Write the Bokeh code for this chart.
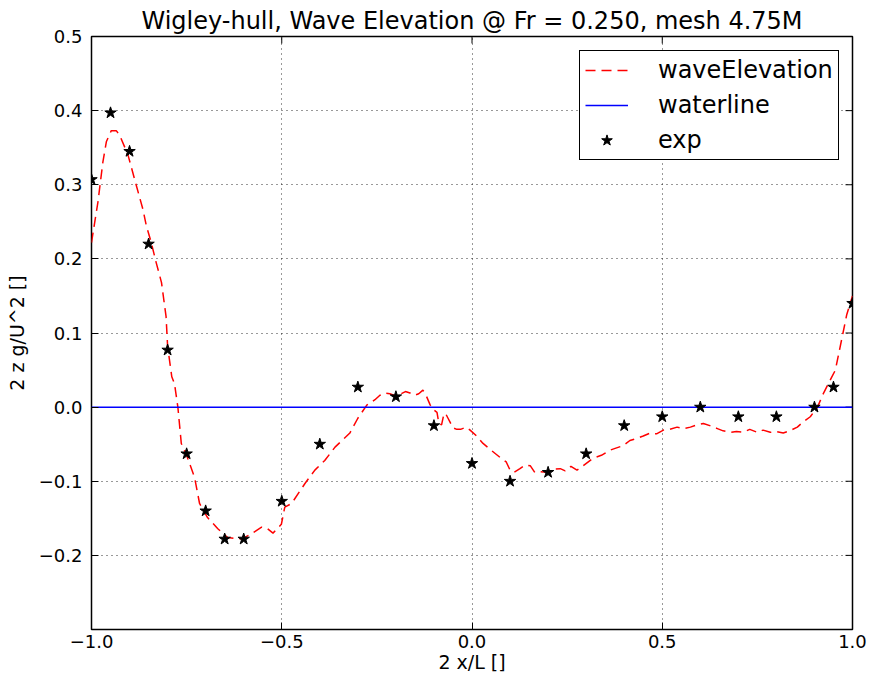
from bokeh.plotting import figure
from bokeh.models import FixedTicker, Range1d, Legend, LegendItem
from bokeh.embed import file_html
from bokeh.resources import INLINE

# ---- data ----
wave_x = [-1.0, -0.983, -0.97, -0.961, -0.948, -0.935, -0.926, -0.904, -0.887, -0.865,
          -0.856, -0.843, -0.83, -0.816, -0.804, -0.8, -0.789, -0.782, -0.773, -0.764,
          -0.75, -0.729, -0.716, -0.695, -0.668, -0.642, -0.606, -0.58, -0.553, -0.54,
          -0.523, -0.501, -0.492, -0.474, -0.439, -0.413, -0.387, -0.36, -0.321, -0.3,
          -0.276, -0.255, -0.242, -0.23, -0.216, -0.2, -0.19, -0.175, -0.163, -0.15,
          -0.14, -0.129, -0.12, -0.11, -0.1, -0.092, -0.087, -0.08, -0.075, -0.07,
          -0.063, -0.058, -0.05, -0.04, -0.03, -0.015, -0.005, 0.01, 0.029, 0.05,
          0.074, 0.09, 0.1, 0.11, 0.126, 0.14, 0.153, 0.165, 0.18, 0.197,
          0.21, 0.232, 0.245, 0.26, 0.276, 0.29, 0.318, 0.34, 0.363, 0.38,
          0.397, 0.415, 0.434, 0.45, 0.468, 0.485, 0.503, 0.52, 0.539, 0.555,
          0.574, 0.59, 0.608, 0.625, 0.645, 0.66, 0.679, 0.695, 0.713, 0.73,
          0.75, 0.765, 0.784, 0.8, 0.818, 0.835, 0.855, 0.87, 0.889, 0.908,
          0.924, 0.942, 0.955, 0.965, 0.975, 0.985, 1.0]
wave_y = [0.222, 0.277, 0.331, 0.358, 0.373, 0.373, 0.367, 0.34, 0.308, 0.267,
          0.245, 0.222, 0.195, 0.168, 0.122, 0.082, 0.041, 0.032, 0.0, -0.049,
          -0.065, -0.095, -0.13, -0.149, -0.164, -0.176, -0.178, -0.171, -0.162, -0.163,
          -0.17, -0.158, -0.135, -0.13, -0.103, -0.085, -0.072, -0.054, -0.035, -0.015,
          0.003, 0.01, 0.016, 0.019, 0.018, 0.015, 0.017, 0.021, 0.019, 0.016,
          0.018, 0.023, 0.015, 0.003, -0.004, -0.007, -0.022, -0.024, -0.012, -0.008,
          -0.015, -0.02, -0.028, -0.03, -0.03, -0.027, -0.031, -0.038, -0.049, -0.058,
          -0.068, -0.074, -0.085, -0.088, -0.083, -0.078, -0.079, -0.088, -0.087, -0.088,
          -0.084, -0.083, -0.086, -0.08, -0.085, -0.08, -0.069, -0.065, -0.058, -0.055,
          -0.052, -0.045, -0.042, -0.039, -0.035, -0.036, -0.031, -0.03, -0.027, -0.029,
          -0.027, -0.024, -0.022, -0.025, -0.029, -0.032, -0.034, -0.033, -0.034, -0.03,
          -0.034, -0.031, -0.034, -0.033, -0.035, -0.032, -0.027, -0.02, -0.013, 0.0,
          0.019, 0.037, 0.05, 0.075, 0.1, 0.125, 0.15]

waterline_x = [-1.0, 1.0]
waterline_y = [0.0, 0.0]

exp_x = [-1.0, -0.95, -0.9, -0.85, -0.8, -0.75, -0.7, -0.65, -0.6, -0.5,
         -0.4, -0.3, -0.2, -0.1, 0.0, 0.1, 0.2, 0.3, 0.4, 0.5,
         0.6, 0.7, 0.8, 0.9, 0.95, 1.0]
exp_y = [0.307, 0.397, 0.345, 0.22, 0.077, -0.063, -0.14, -0.178, -0.178, -0.127,
         -0.05, 0.027, 0.014, -0.025, -0.076, -0.1, -0.088, -0.063, -0.025, -0.013,
         0.0, -0.013, -0.013, 0.0, 0.027, 0.14]

x_ticks = [-1.0, -0.5, 0.0, 0.5, 1.0]
x_tick_labels = ["\u22121.0", "\u22120.5", "0.0", "0.5", "1.0"]
y_ticks = [-0.2, -0.1, 0.0, 0.1, 0.2, 0.3, 0.4, 0.5]
y_tick_labels = ["\u22120.2", "\u22120.1", "0.0", "0.1", "0.2", "0.3", "0.4", "0.5"]

FONT = "DejaVu Sans"
X0, X1, Y0, Y1 = -1.0, 1.0, -0.3, 0.5

W, H = 869, 680
BL, BR, BT, BB = 91, 17, 36, 51

p = figure(width=W, height=H, output_backend="svg", toolbar_location=None,
           x_range=Range1d(X0, X1), y_range=Range1d(Y0, Y1),
           title="Wigley-hull, Wave Elevation @ Fr = 0.250, mesh 4.75M",
           x_axis_label="2 x/L []", y_axis_label="2 z g/U^2 []",
           min_border_left=BL, min_border_right=BR, min_border_top=BT, min_border_bottom=BB)

p.title.text_font = FONT
p.title.text_font_size = "24px"
p.title.text_font_style = "normal"
p.title.text_color = "black"
p.title.align = "center"
p.title.offset = 0
p.title.standoff = 4

p.outline_line_color = "black"
p.outline_line_width = 1.5
p.background_fill_color = "white"
p.border_fill_color = "white"

for ax in p.xaxis:
    ax.ticker = FixedTicker(ticks=x_ticks)
    ax.major_label_overrides = {t: l for t, l in zip(x_ticks, x_tick_labels)}
    ax.major_label_standoff = 5
    ax.axis_label_standoff = 0
for ax in p.yaxis:
    ax.ticker = FixedTicker(ticks=y_ticks)
    ax.major_label_overrides = {t: l for t, l in zip(y_ticks, y_tick_labels)}
    ax.major_label_standoff = 9
    ax.axis_label_standoff = 8

for ax in list(p.xaxis) + list(p.yaxis):
    ax.axis_line_color = None
    ax.major_tick_in = 7
    ax.major_tick_out = 0
    ax.major_tick_line_color = "black"
    ax.major_tick_line_width = 1
    ax.minor_tick_line_color = None
    ax.major_label_text_font = FONT
    ax.major_label_text_font_size = "18px"
    ax.major_label_text_color = "black"
    ax.axis_label_text_font = FONT
    ax.axis_label_text_font_size = "19px"
    ax.axis_label_text_font_style = "normal"
    ax.axis_label_text_color = "black"

# inward tick marks on the top and right edges (matplotlib style box)
frame_w = W - BL - BR
frame_h = H - BT - BB
tick_px = 7
dy = tick_px * (Y1 - Y0) / frame_h
dx = tick_px * (X1 - X0) / frame_w
p.segment(x0=x_ticks, y0=[Y1] * len(x_ticks), x1=x_ticks, y1=[Y1 - dy] * len(x_ticks),
          line_color="black", line_width=1)
p.segment(x0=[X1] * len(y_ticks), y0=y_ticks, x1=[X1 - dx] * len(y_ticks), y1=y_ticks,
          line_color="black", line_width=1)

p.xgrid.ticker = FixedTicker(ticks=x_ticks)
p.ygrid.ticker = FixedTicker(ticks=y_ticks)
for g in (p.xgrid, p.ygrid):
    g.grid_line_color = "black"
    g.grid_line_dash = "1 4"
    g.grid_line_width = 1
    g.grid_line_alpha = 0.8

r_wave = p.line(wave_x, wave_y, line_color="red", line_width=1.5, line_dash="10 6")
r_water = p.line(waterline_x, waterline_y, line_color="blue", line_width=1.5)
r_exp = p.scatter(exp_x, exp_y, marker="star", size=12, fill_color="black", line_color="black")

legend = Legend(items=[LegendItem(label="waveElevation", renderers=[r_wave]),
                       LegendItem(label="waterline", renderers=[r_water]),
                       LegendItem(label="exp", renderers=[r_exp])],
                location=(579 - BL, H - BB - 160))
legend.label_text_font = FONT
legend.label_text_font_size = "24px"
legend.label_text_color = "black"
legend.border_line_color = "black"
legend.border_line_width = 1.5
legend.border_line_alpha = 1.0
legend.glyph_width = 43
legend.glyph_height = 28
legend.label_height = 28
legend.spacing = 7
legend.padding = 5
legend.label_standoff = 30
legend.margin = 0
legend.background_fill_color = "white"
legend.background_fill_alpha = 1.0
p.add_layout(legend, "center")

open("out.html", "w").write(file_html(p, INLINE))
